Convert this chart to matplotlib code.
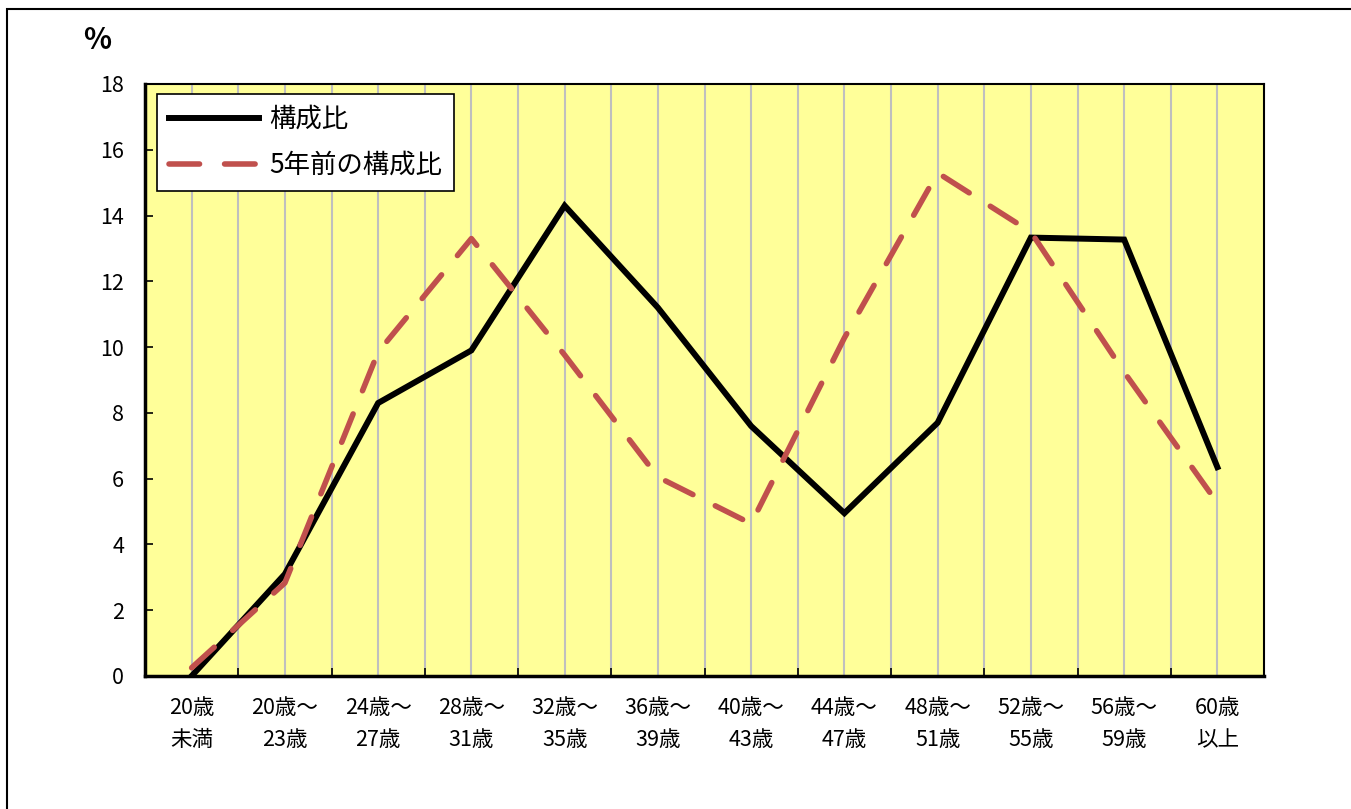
import matplotlib
matplotlib.use("Agg")
import matplotlib.pyplot as plt
from matplotlib.patches import Rectangle

plt.rcParams['font.family'] = ['Noto Sans CJK JP', 'DejaVu Sans']

categories = ["20歳\n未満", "20歳～\n23歳", "24歳～\n27歳", "28歳～\n31歳", "32歳～\n35歳",
              "36歳～\n39歳", "40歳～\n43歳", "44歳～\n47歳", "48歳～\n51歳", "52歳～\n55歳",
              "56歳～\n59歳", "60歳\n以上"]
current = [0.0, 3.1, 8.3, 9.9, 14.3, 11.2, 7.6, 4.95, 7.7, 13.33, 13.27, 6.35]
five_years_ago = [0.25, 2.83, 9.85, 13.3, 9.76, 6.05, 4.63, 10.28, 15.3, 13.5, 9.24, 5.26]
yticks = [0, 2, 4, 6, 8, 10, 12, 14, 16, 18]

fig = plt.figure(figsize=(13.51, 8.09), dpi=100)
ax = fig.add_axes([145/1351, 1-676/809, 1119/1351, 592/809])
ax.set_facecolor('#FFFF99')

x = list(range(len(categories)))
ax.set_xlim(-0.5, len(categories) - 0.5)
ax.set_ylim(0, 18)

# vertical grid lines at centers and boundaries
for k in range(0, 2*len(categories) - 1):
    ax.axvline(k * 0.5, color='#BFBFBF', lw=1.5, zorder=1)

l1, = ax.plot(x, current, color='black', lw=4.3, solid_joinstyle='miter', zorder=3, label='構成比')
l2, = ax.plot(x, five_years_ago, color='#C0504D', lw=4.0, dashes=(5.5, 4.5),
              dash_capstyle='round', zorder=4, label='5年前の構成比')

ax.set_yticks(yticks)
ax.set_yticklabels([str(v) for v in yticks], fontsize=15.5)
ax.set_xticks([i + 0.5 for i in x[:-1]], minor=False)
ax.set_xticklabels([])
ax.set_xticks(x, minor=True)
ax.set_xticklabels(categories, minor=True, fontsize=15.5, linespacing=1.6)
ax.tick_params(axis='x', which='minor', length=0, pad=15)
ax.tick_params(axis='x', which='major', direction='in', length=6, width=1.2)
ax.tick_params(axis='y', direction='in', length=6, width=1.2, pad=15)
for s in ax.spines.values():
    s.set_linewidth(1.5)
ax.spines['bottom'].set_linewidth(2.5)
ax.spines['left'].set_linewidth(2.5)

leg = ax.legend(handles=[l1, l2], loc='upper left', bbox_to_anchor=(0.0107, 0.983),
                fontsize=19, frameon=True, fancybox=False, edgecolor='black',
                handlelength=3.4, borderpad=0.45, labelspacing=0.72, handletextpad=0.4,
                borderaxespad=0)
leg.get_frame().set_linewidth(1.2)
leg.get_frame().set_alpha(1)

fig.text(97/1351, 1-40/809, '%', fontsize=21, fontweight='bold', ha='center', va='center')

fig.patches.append(Rectangle((7/1351, -0.1), 2.0, 1 - 9/809 + 0.1, transform=fig.transFigure,
                             fill=False, edgecolor='black', lw=1.5))

fig.savefig('out.png', dpi=100)
